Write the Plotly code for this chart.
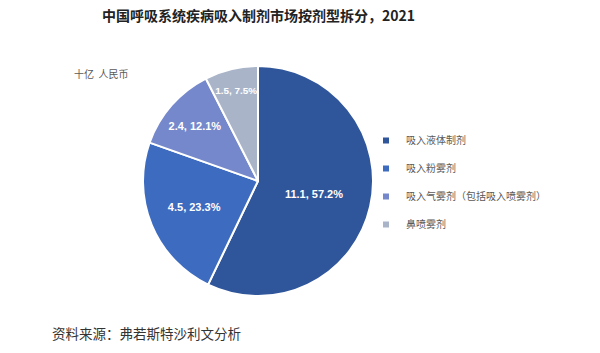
import plotly.graph_objects as go

labels = ["吸入液体制剂", "吸入粉雾剂", "吸入气雾剂（包括吸入喷雾剂）", "鼻喷雾剂"]
values = [11.1, 4.5, 2.4, 1.5]
percents = [57.2, 23.3, 12.1, 7.5]
colors = ["#2F559A", "#3D6BBF", "#7488CB", "#A9B4C9"]

texts = [f"<b>{v}, {p}%</b>" for v, p in zip(values, percents)]

fig = go.Figure()
fig.add_trace(go.Pie(
    labels=labels,
    values=percents,
    text=texts,
    textinfo="text",
    textposition="inside",
    insidetextorientation="horizontal",
    textfont=dict(color="white", size=11, family="Arial, Liberation Sans, sans-serif"),
    marker=dict(colors=colors, line=dict(color="white", width=2)),
    sort=False,
    direction="clockwise",
    rotation=0,
    domain=dict(x=[143/600, 373/600], y=[1-296/353, 1-66/353]),
    hoverinfo="label+text",
    showlegend=False,
))

# legend entries
for i, (lab, col) in enumerate(zip(labels, colors)):
    fig.add_trace(go.Scatter(
        x=[None], y=[None], mode="markers", name=lab,
        marker=dict(symbol="square", size=6, color=col),
        legendgroup=f"g{i}", showlegend=True, hoverinfo="skip",
    ))

fig.update_layout(
    width=600, height=353,
    margin=dict(l=0, r=0, t=0, b=0),
    paper_bgcolor="white",
    plot_bgcolor="white",
    xaxis=dict(visible=False),
    yaxis=dict(visible=False),
    showlegend=True,
    legend=dict(x=366/600, y=1-126/353, xanchor="left", yanchor="top",
                font=dict(size=10, color="#595959", family="Noto Sans CJK SC"),
                tracegroupgap=9, itemsizing="trace",
                bgcolor="rgba(0,0,0,0)"),
    annotations=[
        dict(text="<b>中国呼吸系统疾病吸入制剂市场按剂型拆分，2021</b>",
             x=258/600, y=1-15/353, xref="paper", yref="paper", showarrow=False,
             xanchor="center", yanchor="middle",
             font=dict(size=14, color="#222222", family="Noto Sans CJK SC")),
        dict(text="十亿  人民币", x=72/600, y=1-73/353, xref="paper", yref="paper",
             showarrow=False, xanchor="left", yanchor="middle",
             font=dict(size=10, color="#595959", family="Noto Sans CJK SC")),
        dict(text="资料来源：弗若斯特沙利文分析", x=50/600, y=1-333/353, xref="paper", yref="paper",
             showarrow=False, xanchor="left", yanchor="middle",
             font=dict(size=13.5, color="#333333", family="Noto Sans CJK SC")),
    ],
)

fig.write_html("out.html")
